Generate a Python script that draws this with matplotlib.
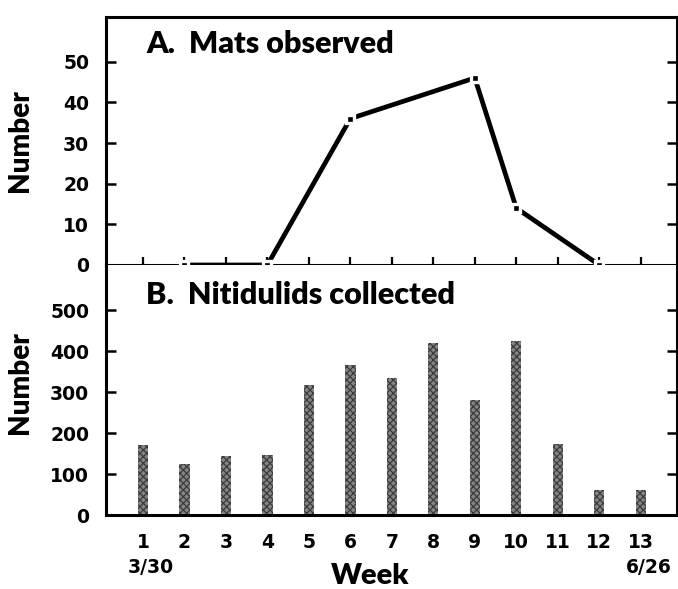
import matplotlib
matplotlib.use("Agg")
import matplotlib.pyplot as plt

# ---- data ----
mat_weeks = [2, 4, 6, 9, 10, 12]
mats = [0, 0, 36, 46, 14, 0]

weeks = [1, 2, 3, 4, 5, 6, 7, 8, 9, 10, 11, 12, 13]
nitidulids = [171, 124, 144, 146, 317, 366, 334, 419, 280, 424, 173, 61, 61]

mats_ticks = [0, 10, 20, 30, 40, 50]
nit_ticks = [0, 100, 200, 300, 400, 500]
first_date, last_date = "3/30", "6/26"

plt.rcParams['font.family'] = ['Lato', 'DejaVu Sans']
plt.rcParams['font.weight'] = 'bold'
plt.rcParams['hatch.linewidth'] = 0.9

fig = plt.figure(figsize=(6.78, 5.89), dpi=100)
ax1 = fig.add_axes([0.1563, 0.5501, 0.842, 0.4211])
ax2 = fig.add_axes([0.1563, 0.1256, 0.842, 0.4245])

xlim = (0.11, 13.87)
# digits in the original are wide and heavy -> DejaVu Sans Bold
tick_font = dict(family="DejaVu Sans", fontsize=13.5, fontweight="bold")

# ---- A. mats observed ----
ax1.plot(mat_weeks, mats, color="black", lw=3.4, solid_capstyle="butt",
         marker="s", ms=6.2, mfc="black", mec="white", mew=2.4, clip_on=False, zorder=3)
ax1.set_xlim(*xlim)
ax1.set_ylim(0, 61)
ax1.set_yticks(mats_ticks)
ax1.set_yticklabels([str(t) for t in mats_ticks], **tick_font)
ax1.set_xticks(weeks)
ax1.set_xticklabels([])
ax1.tick_params(axis="y", direction="in", length=7, width=1.8, left=True, right=True, pad=12)
ax1.tick_params(axis="x", direction="in", length=6, width=1.6)
ax1.text(0.07, 0.89, "A.  Mats observed", transform=ax1.transAxes, fontsize=22,
         fontweight="heavy", va="center", ha="left")
ax1.set_ylabel("Number", fontsize=20, fontweight="heavy")
ax1.yaxis.set_label_coords(-0.128, 0.5)

# ---- B. nitidulids collected ----
ax2.bar(weeks, nitidulids, width=0.25, color="#858585", edgecolor="#3c3c3c",
        hatch="xxxxx", linewidth=0, zorder=2)
ax2.set_xlim(*xlim)
ax2.set_ylim(0, 610)
ax2.set_yticks(nit_ticks)
ax2.set_yticklabels([str(t) for t in nit_ticks], **tick_font)
ax2.set_xticks(weeks)
ax2.set_xticklabels([str(w) for w in weeks], **tick_font)
ax2.tick_params(axis="y", direction="in", length=7, width=1.8, left=True, right=True, pad=12)
ax2.tick_params(axis="x", length=0, pad=13)
ax2.spines["top"].set_visible(False)
ax2.text(0.07, 0.88, "B.  Nitidulids collected", transform=ax2.transAxes, fontsize=22,
         fontweight="heavy", va="center", ha="left")
ax2.set_ylabel("Number", fontsize=20, fontweight="heavy")
ax2.yaxis.set_label_coords(-0.128, 0.53)

# date labels under first and last week
ax2.text(weeks[0] + 0.2, -0.208, first_date, transform=ax2.get_xaxis_transform(),
         ha="center", va="center", **tick_font)
ax2.text(weeks[-1] + 0.2, -0.208, last_date, transform=ax2.get_xaxis_transform(),
         ha="center", va="center", **tick_font)
fig.text(370 / 678, 1 - 576 / 589, "Week", ha="center", va="center",
         fontsize=21, fontweight="heavy")

for ax in (ax1, ax2):
    for s in ax.spines.values():
        s.set_linewidth(2.2)

fig.savefig("out.png", dpi=100)
